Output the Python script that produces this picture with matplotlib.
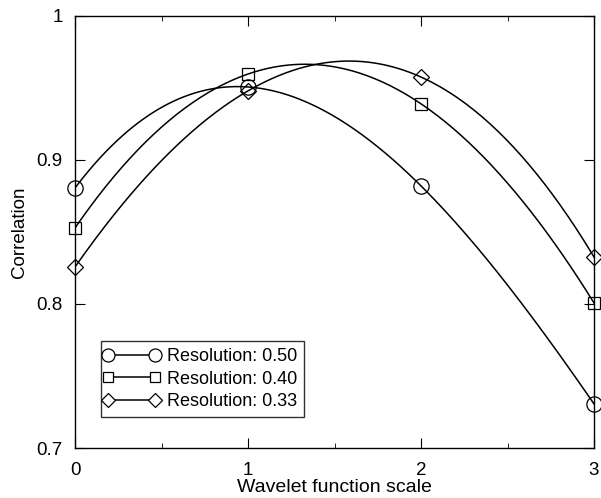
import numpy as np
import matplotlib
matplotlib.use("Agg")
import matplotlib.pyplot as plt
from matplotlib.ticker import MultipleLocator
from matplotlib.legend_handler import HandlerLine2D

plt.rcParams['font.family'] = ['Liberation Sans', 'DejaVu Sans']

scales = [0, 1, 2, 3]
res_050 = [0.8806, 0.9507, 0.8820, 0.7306]
res_040 = [0.8528, 0.9597, 0.9390, 0.8007]
res_033 = [0.8257, 0.9480, 0.9576, 0.8326]
labels = ['Resolution: 0.50', 'Resolution: 0.40', 'Resolution: 0.33']
markers = ['o', 's', 'D']
msizes = [11, 9, 8.5]

fig = plt.figure(figsize=(6.01, 4.98), dpi=100)
ax = fig.add_axes([0.1248, 0.1004, 0.8636, 0.8675])

xs = np.linspace(0, 3, 200)
handles = []
for ys, lab, m, ms in zip([res_050, res_040, res_033], labels, markers, msizes):
    coef = np.polyfit(scales, ys, 3)  # cubic spline through 4 points
    ax.plot(xs, np.polyval(coef, xs), color='black', lw=1.1)
    ax.plot(scales, ys, linestyle='none', marker=m, ms=ms, mfc='none',
            mec='black', mew=0.9, clip_on=False, zorder=3)
    h, = ax.plot([], [], color='black', lw=1.1, marker=m, ms=ms * 0.85, mfc='white',
                 mec='black', mew=0.9, label=lab)
    handles.append(h)

ax.set_xlim(0, 3)
ax.set_ylim(0.7, 1.0)
ax.set_xticks(scales)
ax.set_xticklabels(['0', '1', '2', '3'])
ax.set_yticks([0.7, 0.8, 0.9, 1.0])
ax.set_yticklabels(['0.7', '0.8', '0.9', '1'])
ax.xaxis.set_minor_locator(MultipleLocator(0.5))
ax.tick_params(which='both', direction='in', top=True, right=True, labelsize=13.5)
ax.tick_params(which='major', length=7)
ax.tick_params(which='minor', length=3.5)
ax.tick_params(axis='x', which='major', pad=10)
ax.tick_params(axis='y', which='major', pad=9)
for s in ax.spines.values():
    s.set_linewidth(1.0)
ax.set_xlabel('Wavelet function scale', fontsize=14, labelpad=0)
ax.set_ylabel('Correlation', fontsize=13.5, labelpad=6)

leg = ax.legend(handles=handles, loc='lower left', bbox_to_anchor=(0.05, 0.071),
                fontsize=13, frameon=True, fancybox=False, edgecolor='black',
                numpoints=2, handlelength=2.6, handletextpad=0.65, borderpad=0.4,
                labelspacing=0.3, borderaxespad=0,
                handler_map={h: HandlerLine2D(marker_pad=0) for h in handles})
leg.get_frame().set_linewidth(1.0)

fig.savefig('out.png', dpi=100)
